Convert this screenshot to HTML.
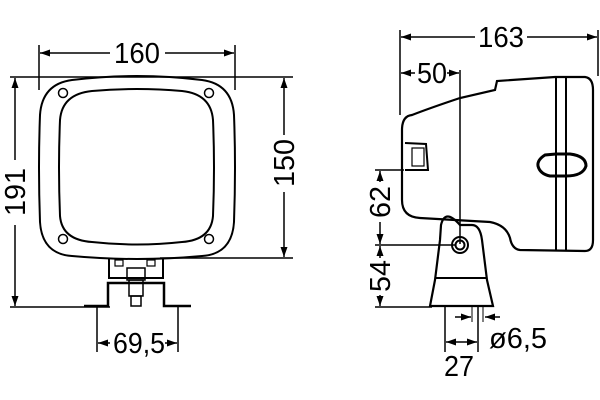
<!DOCTYPE html>
<html><head><style>html,body{margin:0;padding:0;background:#fff}svg{display:block}</style></head>
<body>
<svg width="600" height="400" viewBox="0 0 600 400" xmlns="http://www.w3.org/2000/svg" font-family="Liberation Sans, sans-serif" font-size="29">
<defs>
<marker id="a" viewBox="0 0 10 10" refX="10" refY="5" markerWidth="10" markerHeight="10" orient="auto-start-reverse" markerUnits="userSpaceOnUse"><path d="M0,1.5 L10,5 L0,8.5 z" fill="#000"/></marker>
</defs>
<g stroke="#000" fill="none" stroke-width="1.5">
<line x1="39" y1="45" x2="39" y2="90"/>
<line x1="235" y1="45" x2="235" y2="90"/>
<line x1="10" y1="77" x2="293" y2="77"/>
<line x1="10" y1="307" x2="110" y2="307"/>
<line x1="160" y1="258" x2="293" y2="258"/>
<line x1="97" y1="307" x2="97" y2="352"/>
<line x1="178" y1="307" x2="178" y2="352"/>
<line x1="40" y1="53" x2="110" y2="53" marker-start="url(#a)"/>
<line x1="165" y1="53" x2="234" y2="53" marker-end="url(#a)"/>
<line x1="15" y1="78" x2="15" y2="160" marker-start="url(#a)"/>
<line x1="15" y1="225" x2="15" y2="306" marker-end="url(#a)"/>
<line x1="284" y1="78" x2="284" y2="135" marker-start="url(#a)"/>
<line x1="284" y1="192" x2="284" y2="257" marker-end="url(#a)"/>
<line x1="98" y1="343" x2="110" y2="343" marker-start="url(#a)"/>
<line x1="165" y1="343" x2="177" y2="343" marker-end="url(#a)"/>
<path d="M72,80 Q137,72 202,80 Q232,84 234,115 Q236,167 234,222 Q232,254 202,256 Q137,262 72,256 Q42,254 40,222 Q38,167 40,115 Q42,84 72,80 Z" stroke-width="2"/>
<path d="M92,91 Q137,87 182,91 Q211,94 213,120 Q215,167 213,216 Q211,240 182,242 Q137,247 92,242 Q62,240 60,216 Q58,167 60,120 Q62,94 92,91 Z" stroke-width="2"/>
<circle cx="63" cy="93" r="4.5"/><circle cx="209" cy="93" r="4.5"/>
<circle cx="63" cy="239" r="4.5"/><circle cx="209" cy="239" r="4.5"/>
<path d="M109,259 L109,278 L163,278 L163,259" stroke-width="2"/>
<path d="M84,306 L108,306 L108,283 L164,283 L164,306 L191,306" stroke-width="2.5"/>
<rect x="115" y="260" width="8" height="6" stroke-width="1.2"/><rect x="147" y="260" width="8" height="6" stroke-width="1.2"/>
<rect x="127" y="268" width="18" height="12" stroke-width="1.5"/>
<rect x="129" y="280" width="14" height="16" stroke-width="1.5"/>
<rect x="131" y="296" width="10" height="10" stroke-width="1.5"/>

<line x1="400" y1="30" x2="400" y2="115"/>
<line x1="598" y1="30" x2="598" y2="76"/>
<line x1="401" y1="37" x2="475" y2="37" marker-start="url(#a)"/>
<line x1="527" y1="37" x2="597" y2="37" marker-end="url(#a)"/>
<line x1="401" y1="73" x2="415" y2="73" marker-start="url(#a)"/>
<line x1="447" y1="73" x2="459" y2="73" marker-end="url(#a)"/>
<line x1="460" y1="70" x2="460" y2="244"/>
<line x1="375" y1="170" x2="404" y2="170"/>
<line x1="375" y1="245" x2="455" y2="245"/>
<line x1="375" y1="307" x2="432" y2="307"/>
<line x1="380" y1="171" x2="380" y2="182" marker-start="url(#a)"/>
<line x1="380" y1="222" x2="380" y2="244" marker-end="url(#a)"/>
<line x1="380" y1="246" x2="380" y2="258" marker-start="url(#a)"/>
<line x1="380" y1="295" x2="380" y2="306" marker-end="url(#a)"/>
<line x1="445" y1="307" x2="445" y2="352"/>
<line x1="478" y1="307" x2="478" y2="352"/>
<line x1="446" y1="342" x2="477" y2="342" marker-start="url(#a)" marker-end="url(#a)"/>
<line x1="455" y1="317" x2="471" y2="317" marker-end="url(#a)"/>
<line x1="500" y1="317" x2="485" y2="317" marker-end="url(#a)"/>
<line x1="472" y1="307" x2="472" y2="322" stroke-width="1"/>
<line x1="483" y1="307" x2="483" y2="322" stroke-width="1"/>
<path d="M412,115 Q430,108 460,98 L495,90 L497,81 L555,77 L585,77 Q593,78 593,90 L593,240 Q593,251 585,251 L520,250 Q512,249 510,238 Q506,225 490,222 L420,218 Q402,217 402,200 L402,130 Q402,116 412,115 Z" stroke-width="2.2"/>
<line x1="556" y1="78" x2="556" y2="251" stroke-width="2"/>
<line x1="566" y1="78" x2="566" y2="251" stroke-width="2"/>
<path d="M545,155 Q537,160 538,166 Q540,174 550,176 L556,176 L566,176 Q583,176 586,166 Q586,156 570,154 L556,154 Z" stroke-width="3"/>
<path d="M405,143 L426,144 L428,170 L405,170" stroke-width="2"/>
<rect x="412" y="148" width="12" height="18" stroke-width="1.2"/>
<path d="M441,225 Q445,208 460,225 L472,225 Q480,225 482,240 L487,280 L493,306 L430,306 L435,280 L440,240 Z" stroke-width="2.2"/>
<line x1="436" y1="278" x2="487" y2="278" stroke-width="2"/>
<circle cx="460" cy="245" r="8" stroke-width="2"/>
<circle cx="460" cy="245" r="4.5" stroke-width="2"/>
</g>
<g fill="#000" text-anchor="middle">
<text x="137" y="63" textLength="46" lengthAdjust="spacingAndGlyphs">160</text>
<text x="139" y="353" textLength="52" lengthAdjust="spacingAndGlyphs">69,5</text>
<text transform="translate(25,192) rotate(-90)" textLength="48" lengthAdjust="spacingAndGlyphs">191</text>
<text transform="translate(294,163) rotate(-90)" textLength="48" lengthAdjust="spacingAndGlyphs">150</text>
<text x="501" y="47" textLength="46" lengthAdjust="spacingAndGlyphs">163</text>
<text x="432" y="83" textLength="30" lengthAdjust="spacingAndGlyphs">50</text>
<text transform="translate(390,202) rotate(-90)" textLength="32" lengthAdjust="spacingAndGlyphs">62</text>
<text transform="translate(390,276) rotate(-90)" textLength="32" lengthAdjust="spacingAndGlyphs">54</text>
<text x="459" y="376" textLength="30" lengthAdjust="spacingAndGlyphs">27</text>
<text x="518" y="348" textLength="58" lengthAdjust="spacingAndGlyphs">ø6,5</text>
</g>
</svg>
</body></html>
